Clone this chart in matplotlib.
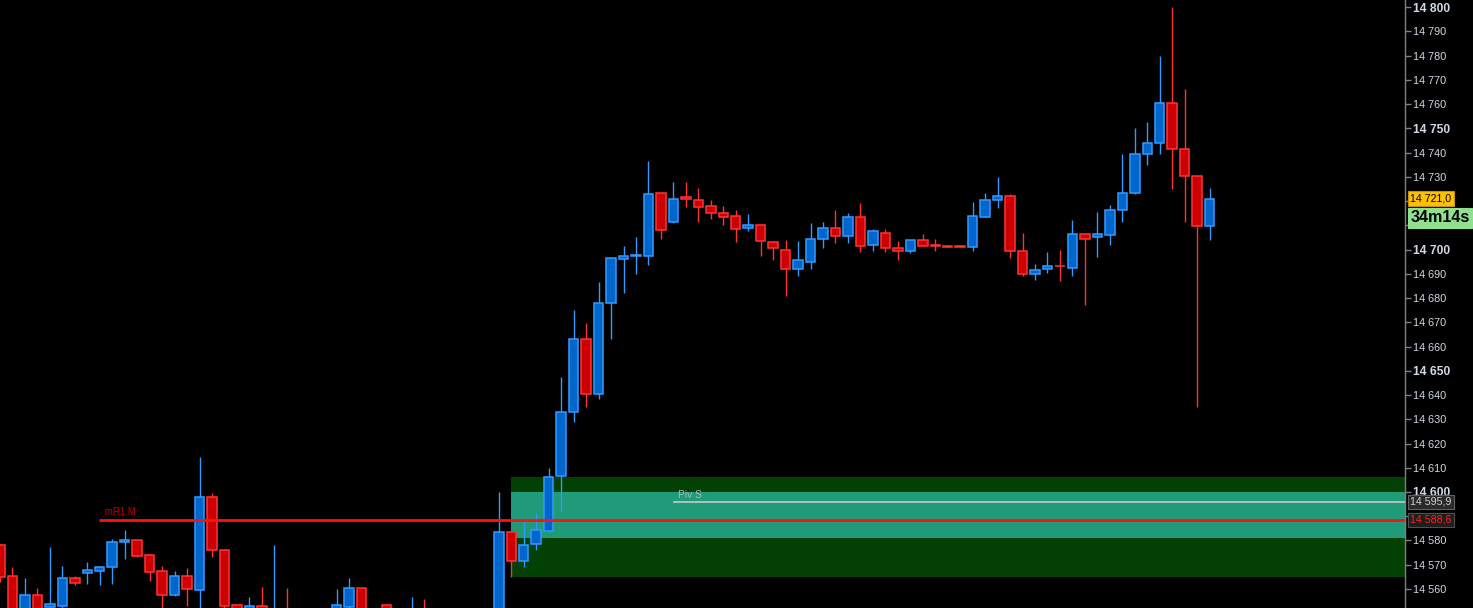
import matplotlib
matplotlib.use("Agg")
import matplotlib.pyplot as plt
import matplotlib.transforms as mtransforms

plt.rcParams['font.family'] = ['Liberation Sans', 'DejaVu Sans']

# OHLC per bar (bars 22-39 sit mostly below the visible range)
opens = [14578, 14565.5, 14550, 14557.5, 14552.5, 14553, 14564.5, 14566.5, 14567.5, 14569,
         14579.5, 14580, 14574, 14567.5, 14557.5, 14565.5, 14559.5, 14598, 14576, 14553.5,
         14548, 14553, 14540, 14546, 14541, 14545, 14542, 14548, 14552.5, 14560.5,
         14543, 14553.5, 14544, 14546, 14549, 14544, 14540, 14545, 14541, 14546,
         14544, 14583.5, 14571.5, 14578.5, 14584, 14606.5, 14633, 14663, 14640.5, 14678,
         14696, 14697.3, 14697.5, 14723.5, 14711.5, 14721.5, 14720.5, 14718, 14715, 14714,
         14709, 14710, 14703, 14700, 14692, 14695, 14704.5, 14709, 14705.5, 14713.5,
         14702, 14707, 14700.5, 14699.5, 14704, 14702, 14701.5, 14701.5, 14701, 14713.5,
         14720.5, 14722, 14699.5, 14690, 14692, 14693.3, 14692.5, 14706.5, 14705, 14706,
         14716.5, 14723.5, 14739.5, 14744, 14760.5, 14741.5, 14730.5, 14709.5]
highs = [14578.5, 14569, 14564.5, 14560.5, 14577.5, 14569.5, 14565.5, 14571, 14569.5, 14580.5,
         14584.5, 14580.5, 14574.5, 14569.5, 14567.5, 14568.5, 14614.5, 14599.5, 14576.5, 14553.5,
         14556.5, 14561, 14578, 14560.5, 14549, 14550, 14550, 14560, 14564.5, 14560.5,
         14550, 14553.5, 14550, 14556.5, 14556, 14550, 14548, 14550, 14549, 14551,
         14600, 14584, 14588, 14591.5, 14610, 14647.5, 14675, 14669.5, 14686.5, 14696.5,
         14701.5, 14705, 14736.5, 14723.5, 14728, 14728, 14725.5, 14720.5, 14718, 14716.5,
         14714.5, 14710.5, 14703.5, 14704, 14703.5, 14711, 14711.5, 14716.5, 14715, 14719,
         14708.5, 14708.5, 14703.5, 14704, 14706.5, 14704.5, 14702, 14701.8, 14719.5, 14723.5,
         14730, 14723, 14707, 14694, 14699, 14700, 14712, 14707, 14715.5, 14718.5,
         14739.5, 14750, 14752.5, 14780, 14800, 14766, 14730.5, 14725.5]
lows = [14563, 14544, 14547, 14545, 14549, 14550, 14561.5, 14562, 14561.5, 14562,
        14572.5, 14573.3, 14563.5, 14548, 14557, 14553, 14548, 14573, 14550, 14545,
        14545, 14542, 14536, 14538, 14535, 14538, 14540, 14545, 14550, 14542,
        14538, 14540, 14538, 14542, 14540, 14536, 14534, 14538, 14536, 14540,
        14541, 14565, 14569, 14576, 14583.5, 14592, 14629, 14635, 14638.5, 14663,
        14682, 14690, 14693.5, 14704.5, 14711, 14717.5, 14711.5, 14712.5, 14710, 14703,
        14707.5, 14697.5, 14695.5, 14681, 14689, 14692, 14700.5, 14702.5, 14702.5, 14699,
        14699.5, 14699, 14695.5, 14698.5, 14701.5, 14699.5, 14701, 14701.2, 14699.5, 14713.5,
        14717, 14696.5, 14689, 14687.5, 14690.5, 14687, 14689, 14677, 14697, 14702,
        14711.5, 14723, 14735, 14739.5, 14725, 14711.5, 14635, 14704]
closes = [14565, 14547, 14557.5, 14549, 14554, 14564.5, 14562.5, 14568, 14569, 14579.5,
          14580, 14573.7, 14567, 14557.5, 14565.5, 14560, 14598, 14576, 14553, 14548,
          14553, 14546, 14546, 14541, 14545, 14542, 14548, 14553.5, 14560.5, 14546,
          14550, 14544, 14546, 14549, 14544, 14540, 14545, 14541, 14546, 14544,
          14583.5, 14571.5, 14578, 14584.5, 14606, 14633, 14663, 14640.5, 14678, 14696.5,
          14697.5, 14697.8, 14723, 14708, 14721, 14721, 14717.5, 14715, 14713.5, 14708.5,
          14710, 14703.5, 14700.5, 14692, 14695.5, 14704.5, 14709, 14705.5, 14713.5, 14701.5,
          14707.5, 14700.5, 14699.5, 14704, 14701.5, 14701.5, 14701, 14701.2, 14714, 14720.5,
          14722, 14699.5, 14690, 14691.5, 14693, 14693, 14706.5, 14704.5, 14706.5, 14716.5,
          14723.5, 14739.5, 14744, 14760.5, 14741.5, 14730.5, 14709.5, 14721]

# horizontal levels
mr1_level = 14588.6
piv_s_level = 14595.9
zone_outer = (14565.1, 14606.2)
zone_inner = (14581.2, 14600.0)
last_price = 14721.0
timer_text = "34m14s"
# tick labels hidden behind the price tags
covered_ticks = [14590, 14710, 14720]

up_fill, up_edge = '#0066cc', '#3399ff'
dn_fill, dn_edge = '#cc0000', '#ff3333'

fig = plt.figure(figsize=(14.73, 6.08), dpi=100, facecolor='black')
ax = fig.add_axes([0, 0, 1405 / 1473, 1])
ax.set_facecolor('black')

n = len(opens)
xs = list(range(n))
x_max = 112.67
ax.set_xlim(0, x_max)
ax.set_ylim(14552.16, 14802.9)

# zones
ax.fill_between([41, x_max], zone_outer[0], zone_outer[1], color='#034003', lw=0, zorder=0.5)
ax.fill_between([41, x_max], zone_inner[0], zone_inner[1], color='#1f9b7a', lw=0, zorder=0.6)

# candles
for i in xs:
    o, h, l, c = opens[i], highs[i], lows[i], closes[i]
    up = c >= o
    edge = up_edge if up else dn_edge
    fill = up_fill if up else dn_fill
    ax.vlines(i, l, h, color=edge, lw=1.0, zorder=2)
    ax.bar(i, abs(c - o), bottom=min(o, c), width=0.76, color=fill,
           edgecolor=edge, linewidth=1.1, zorder=3)

# level lines
ax.hlines(piv_s_level, 54, x_max, color='#c8c8c8', lw=1.2, zorder=4)
ax.text(54.4, piv_s_level + 0.9, "Piv S", color='#a8bcb4', fontsize=7.4,
        va='bottom', ha='left', zorder=5)
ax.hlines(mr1_level, 7.9, x_max, color='#ff1010', lw=2.0, zorder=4)
ax.text(8.4, mr1_level + 1.2, "mR1 M", color='#c00000', fontsize=6.9,
        va='bottom', ha='left', zorder=5)

# right axis
for s in ['left', 'top', 'bottom']:
    ax.spines[s].set_visible(False)
ax.spines['right'].set_color('#808080')
ax.spines['right'].set_linewidth(1.0)
ax.set_xticks([])
ax.yaxis.tick_right()
ticks = list(range(14560, 14801, 10))
ax.set_yticks(ticks)
ax.set_yticklabels(["" if t in covered_ticks else f"{t:,}".replace(',', ' ') for t in ticks])
ax.tick_params(axis='y', direction='out', length=4, width=1, color='#808080',
               labelcolor='#d0d8e6', labelsize=7.8, pad=2)
for t, lab in zip(ticks, ax.get_yticklabels()):
    if t % 50 == 0:
        lab.set_fontweight('bold')
        lab.set_fontsize(8.7)

trans = mtransforms.blended_transform_factory(ax.transAxes, ax.transData)
x0 = 1410.5 / 1405


def price_tag(y, text, fg, bg, ec, size=7.7, weight='normal', pad=0.2):
    ax.text(x0, y, text, transform=trans, color=fg, fontsize=size, fontweight=weight,
            va='center', ha='left', clip_on=False, zorder=10,
            bbox=dict(boxstyle=f'square,pad={pad}', fc=bg, ec=ec, lw=0.8))


def fmt(v):
    return f"{v:,.1f}".replace(',', ' ').replace('.', ',')


price_tag(last_price, fmt(last_price), 'black', '#ffc000', '#c89000')
price_tag(14713.0, timer_text, 'black', '#8fe08f', '#8fe08f', size=11.6, weight='bold', pad=0.15)
price_tag(piv_s_level, fmt(piv_s_level), '#d0d0d0', '#2a2a2a', '#606060')
price_tag(mr1_level, fmt(mr1_level), '#ff2020', '#1e1e1e', '#505050')

fig.savefig('out.png', dpi=100, facecolor='black')
